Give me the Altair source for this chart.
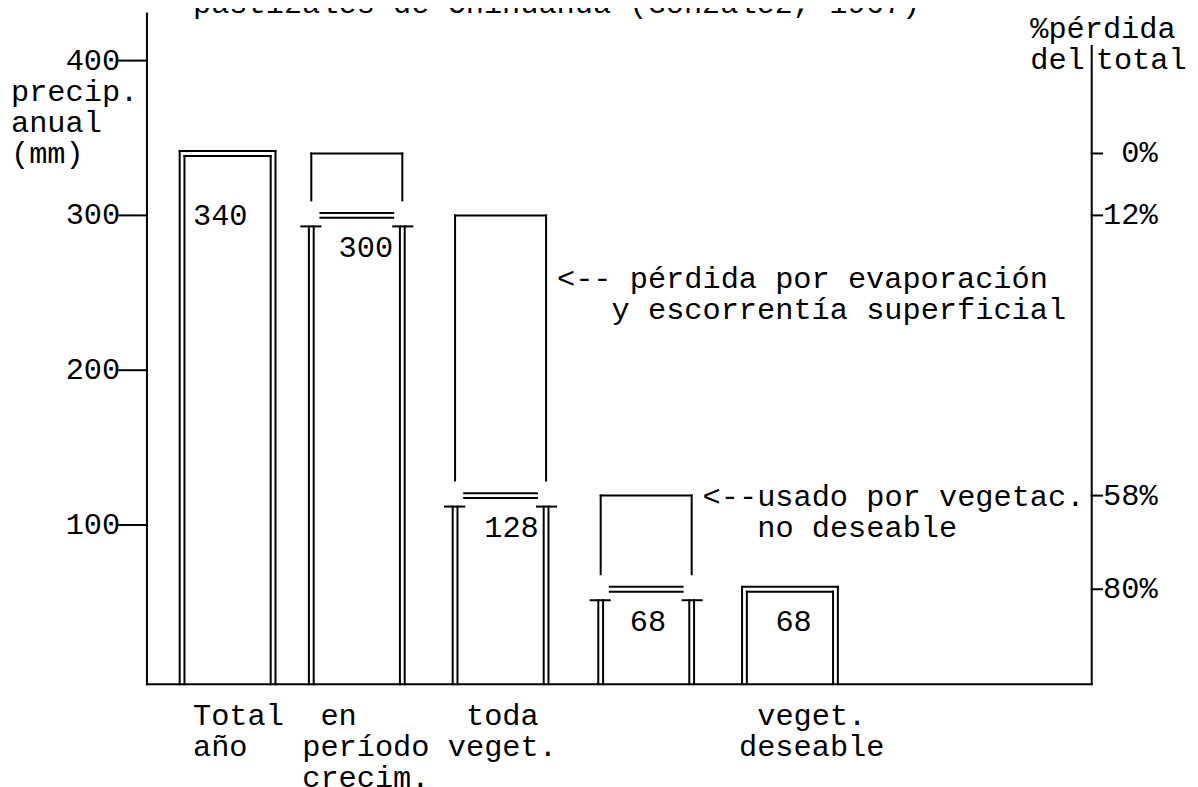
import altair as alt
import pandas as pd

# ---------------- data ----------------
title_text = "pastizales de Chihuahua (González, 1967)"
bar_labels = ["340", "300", "128", "68", "68"]
bar_tops = [340, 300, 119, 58.5, 58.5]          # levels as drawn (mm)
prev_tops = [None, 340, 300, 119, None]         # top of the loss bracket (mm)
bar_kind = ["box", "step", "step", "step", "box"]
cat_lines = [["Total", "año"], ["en", "período", "crecim."], ["toda", "veget."], [], ["veget.", "deseable"]]
left_ticks = [100, 200, 300, 400]
left_tick_labels = ["100", "200", "300", "400"]
pct_levels = [340, 300, 119, 58.5]
pct_labels = ["0%", "12%", "58%", "80%"]
notes = ["<-- pérdida por evaporación", "y escorrentía superficial",
         "<--usado por vegetac.", "no deseable"]
y_title_lines = ["precip.", "anual", "(mm)"]
r_title_lines = ["%pérdida", "del", "total"]

# ---------------- layout (character grid) ----------------
W, H = 1182, 779
COL_PX = 18.2            # width of one character column
X0_PX = 193 - 8          # svg x of column 0
MM_PX = 1.548            # pixels per mm
Y0_PX = 679.8 - 8        # svg y of 0 mm
x_domain = [(0 - X0_PX) / COL_PX, (W - X0_PX) / COL_PX]
y_domain = [(Y0_PX - H) / MM_PX, Y0_PX / MM_PX]

def row_y(r, base=9.0):
    page_center = -2 + 31.2 * r
    return (679.8 - (page_center + base)) / MM_PX

FONT = "Liberation Mono"
FS = 30.3

bar_cols = [1.9, 9.0, 16.9, 24.9, 32.8]
HALF = 2.5
DX = 2.4 / COL_PX
DY = 2.4 / MM_PX
BASE = -2.8
LEFT_AX = -2.53
RIGHT_AX = 49.38

segs = []
def seg(x, y, x2, y2):
    segs.append({"x": x, "y": y, "x2": x2, "y2": y2})

# axes
seg(LEFT_AX, (679.8 - 13.6) / MM_PX, LEFT_AX, BASE)
seg(RIGHT_AX, (679.8 - 46) / MM_PX, RIGHT_AX, BASE)
seg(LEFT_AX, BASE, RIGHT_AX, BASE)
for v in left_ticks:
    seg(-4.05, v, LEFT_AX, v)
for v in pct_levels:
    seg(RIGHT_AX, v, 49.95, v)

for c, t, p, k in zip(bar_cols, bar_tops, prev_tops, bar_kind):
    if k == "box":
        seg(c - HALF - DX, t + DY, c + HALF + DX, t + DY)
        seg(c - HALF + DX, t - DY, c + HALF - DX, t - DY)
        seg(c - HALF - DX, t + DY, c - HALF - DX, BASE)
        seg(c - HALF + DX, t - DY, c - HALF + DX, BASE)
        seg(c + HALF + DX, t + DY, c + HALF + DX, BASE)
        seg(c + HALF - DX, t - DY, c + HALF - DX, BASE)
    else:
        seg(c - HALF, p, c + HALF, p)
        seg(c - HALF, p, c - HALF, t + 15 / MM_PX)
        seg(c + HALF, p, c + HALF, t + 15 / MM_PX)
        seg(c - 2.0, t + DY, c + 2.0, t + DY)
        seg(c - 2.0, t - DY, c + 2.0, t - DY)
        ty = t - 11 / MM_PX
        seg(c - 3.05, ty, c - 2.0, ty)
        seg(c + 2.0, ty, c + 3.05, ty)
        for xx in (c - HALF - DX, c - HALF + DX, c + HALF - DX, c + HALF + DX):
            seg(xx, ty, xx, BASE)

seg_df = pd.DataFrame(segs)

# left-aligned texts
lt = []
lt.append({"text": title_text, "x": 0, "y": (679.8 - 13) / MM_PX})
for i, s in enumerate(y_title_lines):
    lt.append({"text": s, "x": -10, "y": row_y(3 + i)})
lt.append({"text": r_title_lines[0], "x": 46, "y": row_y(1)})
lt.append({"text": r_title_lines[1], "x": 46, "y": row_y(2)})
lt.append({"text": r_title_lines[2], "x": 49.6, "y": row_y(2)})
label_cols = [0, 8, 16, 24, 32]
label_rows = [7, 8, 17, 20, 20]
for s, cc, rr in zip(bar_labels, label_cols, label_rows):
    lt.append({"text": s, "x": cc, "y": row_y(rr)})
cat_cols = [[0, 0], [7, 6, 6], [15, 14], [], [31, 30]]
for lines, cols in zip(cat_lines, cat_cols):
    for j, (s, cc) in enumerate(zip(lines, cols)):
        lt.append({"text": s, "x": cc, "y": row_y(23 + j)})
note_cols = [20, 23, 28, 31]
note_rows = [9, 10, 16, 17]
for s, cc, rr in zip(notes, note_cols, note_rows):
    lt.append({"text": s, "x": cc, "y": row_y(rr)})
lt_df = pd.DataFrame(lt)

rt = []
for v, s in zip(left_ticks, left_tick_labels):
    rt.append({"text": s, "x": -4.0, "y": v - 9 / MM_PX})
for v, s in zip(pct_levels, pct_labels):
    rt.append({"text": s, "x": 53.0, "y": v - 9 / MM_PX})
rt_df = pd.DataFrame(rt)

xs = alt.Scale(domain=x_domain, nice=False, zero=False)
ys = alt.Scale(domain=y_domain, nice=False, zero=False)

rules = alt.Chart(seg_df).mark_rule(color="black", strokeWidth=2, strokeCap="square").encode(
    x=alt.X("x:Q", scale=xs, axis=None), x2="x2:Q",
    y=alt.Y("y:Q", scale=ys, axis=None), y2="y2:Q")

txt_l = alt.Chart(lt_df).mark_text(align="left", baseline="alphabetic", font=FONT,
                                   fontSize=FS, color="black").encode(
    x=alt.X("x:Q", scale=xs, axis=None), y=alt.Y("y:Q", scale=ys, axis=None), text="text:N")

txt_r = alt.Chart(rt_df).mark_text(align="right", baseline="alphabetic", font=FONT,
                                   fontSize=FS, color="black").encode(
    x=alt.X("x:Q", scale=xs, axis=None), y=alt.Y("y:Q", scale=ys, axis=None), text="text:N")

chart = alt.layer(rules, txt_l, txt_r).properties(
    width=W, height=H, autosize=alt.AutoSizeParams(type="none"), padding=0,
    background="white").configure_view(stroke=None)

chart.save("out.html", embed_options={"renderer": "svg", "actions": False})
